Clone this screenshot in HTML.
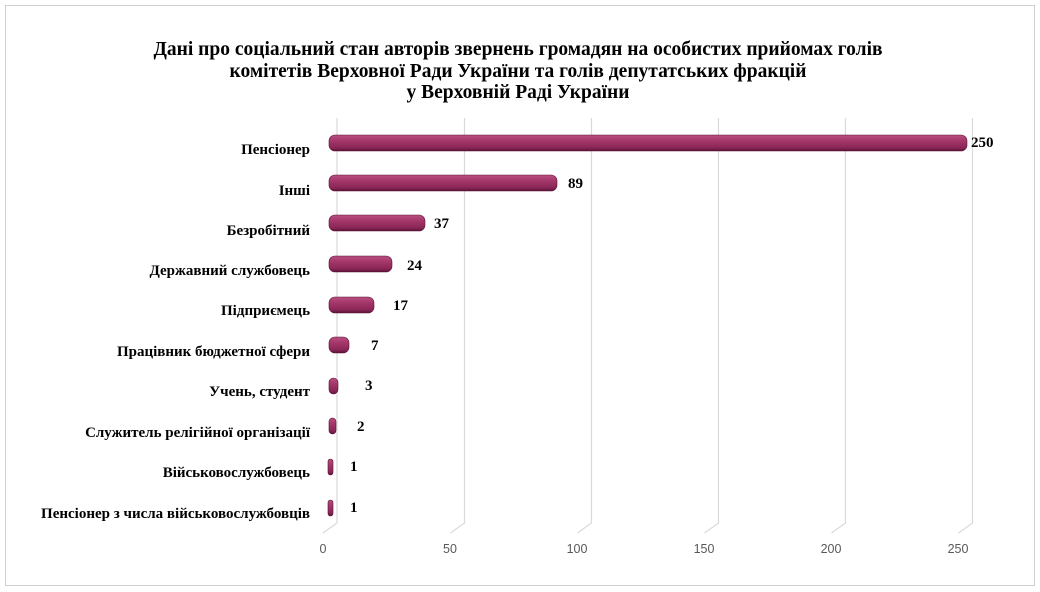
<!DOCTYPE html>
<html><head><meta charset="utf-8"><style>
html,body{margin:0;padding:0;background:#fff;width:1040px;height:592px;overflow:hidden}
</style></head><body>
<svg width="1040" height="592" viewBox="0 0 1040 592" xmlns="http://www.w3.org/2000/svg">
<defs>
<linearGradient id="g" x1="0" y1="0" x2="0" y2="1">
<stop offset="0" stop-color="#b8507f"/>
<stop offset="0.35" stop-color="#a5376a"/>
<stop offset="0.8" stop-color="#8a2656"/>
<stop offset="1" stop-color="#5a1236"/>
</linearGradient>
</defs>
<rect x="5.5" y="5.5" width="1029" height="580" fill="#fff" stroke="#d0d0d0"/>
<g font-family="Liberation Serif, serif" font-weight="bold" font-size="19.5" text-anchor="middle" fill="#000">
<text x="518" y="55">Дані про соціальний стан авторів звернень громадян на особистих прийомах голів</text>
<text x="518" y="77">комітетів Верховної Ради України та голів депутатських фракцій</text>
<text x="518" y="98">у Верховній Раді України</text>
</g>
<g stroke="#d9d9d9" stroke-width="1.2" fill="none">
<path d="M337,118 V523 L323,533"/>
<path d="M464.5,118 V523 L450.5,533"/>
<path d="M591.5,118 V523 L577.5,533"/>
<path d="M718.5,118 V523 L704.5,533"/>
<path d="M845.5,118 V523 L831.5,533"/>
<path d="M972.5,118 V523 L958.5,533"/>
</g>
<g font-family="Liberation Sans, sans-serif" font-size="12.5" fill="#595959" text-anchor="middle">
<text x="323" y="553">0</text><text x="450" y="553">50</text><text x="577" y="553">100</text>
<text x="704" y="553">150</text><text x="831" y="553">200</text><text x="958" y="553">250</text>
</g>
<g fill="url(#g)" stroke="#5a1236" stroke-width="0.6">
<rect x="329" y="135" width="638" height="16" rx="6"/>
<rect x="329" y="175" width="228" height="16" rx="6"/>
<rect x="329" y="215" width="96" height="16" rx="6"/>
<rect x="329" y="256" width="63" height="16" rx="6"/>
<rect x="329" y="297" width="45" height="16" rx="6"/>
<rect x="329" y="337" width="20" height="16" rx="6"/>
<rect x="329" y="378" width="9" height="16" rx="4.5"/>
<rect x="329" y="418" width="7" height="16" rx="3.5"/>
<rect x="328" y="459" width="5" height="16" rx="2.5"/>
<rect x="328" y="500" width="5" height="16" rx="2.5"/>
</g>
<g font-family="Liberation Serif, serif" font-weight="bold" font-size="15" fill="#000">
<text x="971" y="147">250</text><text x="568" y="188">89</text><text x="434" y="228">37</text>
<text x="407" y="270">24</text><text x="393" y="310">17</text><text x="371" y="350">7</text>
<text x="365" y="390">3</text><text x="357" y="431">2</text><text x="350" y="471">1</text>
<text x="350" y="512">1</text>
</g>
<g font-family="Liberation Serif, serif" font-weight="bold" font-size="15" fill="#000" text-anchor="end">
<text x="310" y="154">Пенсіонер</text>
<text x="310" y="195">Інші</text>
<text x="310" y="235">Безробітний</text>
<text x="310" y="275">Державний службовець</text>
<text x="310" y="315">Підприємець</text>
<text x="310" y="356">Працівник бюджетної сфери</text>
<text x="310" y="396">Учень, студент</text>
<text x="310" y="437">Служитель релігійної організації</text>
<text x="310" y="477">Військовослужбовець</text>
<text x="310" y="518">Пенсіонер з числа військовослужбовців</text>
</g>
</svg>
</body></html>
